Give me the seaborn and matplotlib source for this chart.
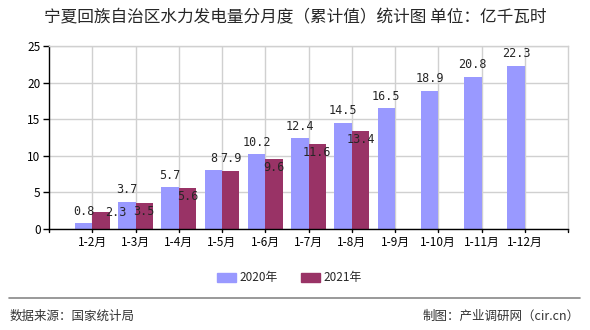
import matplotlib
matplotlib.use("Agg")
import matplotlib.pyplot as plt
import seaborn as sns
import pandas as pd
import numpy as np
from matplotlib.lines import Line2D

# ---- data ----
categories = ["1-2月", "1-3月", "1-4月", "1-5月", "1-6月", "1-7月", "1-8月",
              "1-9月", "1-10月", "1-11月", "1-12月"]
values_2020 = [0.8, 3.7, 5.7, 8, 10.2, 12.4, 14.5, 16.5, 18.9, 20.8, 22.3]
values_2021 = [2.3, 3.5, 5.6, 7.9, 9.6, 11.6, 13.4, None, None, None, None]
series_names = ["2020年", "2021年"]
y_ticks = [0, 5, 10, 15, 20, 25]
title = "宁夏回族自治区水力发电量分月度（累计值）统计图 单位：亿千瓦时"
source_text = "数据来源：国家统计局"
maker_text = "制图：产业调研网（cir.cn）"

# ---- styling ----
colors = ["#9999FF", "#993366"]
# label offsets (points) for 2021 labels that deviate from default placement
label_offsets_2021 = {"1-2月": (11, 0), "1-5月": (0, 9)}

df = pd.DataFrame({
    "cat": categories * 2,
    "val": values_2020 + [np.nan if v is None else v for v in values_2021],
    "series": [series_names[0]] * len(categories) + [series_names[1]] * len(categories),
})

sns.set_theme(style="white")
plt.rcParams["font.family"] = ["Noto Sans CJK SC", "DejaVu Sans"]

fig = plt.figure(figsize=(5.9, 3.3), dpi=100)
ax = fig.add_axes([49 / 590, 1 - 229 / 330, (568 - 49) / 590, (229 - 46) / 330])

sns.barplot(data=df, x="cat", y="val", hue="series", order=categories,
            hue_order=series_names, palette=colors, width=0.8,
            saturation=1, ax=ax, legend=False, errorbar=None,
            linewidth=0, edgecolor="none")

ax.set_xlim(-1, len(categories))
ax.set_ylim(0, 25)
ax.set_yticks(y_ticks)
ax.set_yticklabels([str(t) for t in y_ticks], fontsize=8.5, color="#000000")
ax.set_xticks(range(len(categories)))
ax.set_xticklabels(categories, fontsize=8.5, color="#000000")
ax.set_xlabel("")
ax.set_ylabel("")

# grid
ax.set_axisbelow(True)
ax.grid(True, axis="both", color="#d0d0d0", linewidth=1)
for s in ["top", "right"]:
    ax.spines[s].set_color("#d0d0d0")
    ax.spines[s].set_linewidth(1)
for s in ["left", "bottom"]:
    ax.spines[s].set_color("#000000")
    ax.spines[s].set_linewidth(1)
ax.tick_params(axis="y", length=4, width=1, color="#000000", pad=2, left=True)
ax.tick_params(axis="x", length=0, pad=5)
# tick marks at category centers plus both ends
for xv in list(range(-1, len(categories) + 1)):
    ax.plot([xv, xv], [0, -0.018], transform=ax.get_xaxis_transform(),
            color="#000000", linewidth=1, clip_on=False)

# value labels
c2020, c2021 = ax.containers[0], ax.containers[1]
for p, v in zip(c2020.patches, values_2020):
    ax.annotate(f"{v:g}", (p.get_x() + p.get_width() / 2, p.get_height()),
                xytext=(0, 4), textcoords="offset points", ha="center",
                va="bottom", fontsize=8.5, family="DejaVu Sans Mono")
for p, v, c in zip(c2021.patches, values_2021, categories):
    if v is None:
        continue
    dx, dy = label_offsets_2021.get(c, (0, -6))
    ax.annotate(f"{v:g}", (p.get_x() + p.get_width() / 2, p.get_height()),
                xytext=(dx, dy), textcoords="offset points", ha="center",
                va="center", fontsize=8.5, family="DejaVu Sans Mono")

# title
fig.text(0.5, 1 - 18 / 330, title, ha="center", va="center", fontsize=12)

# legend
handles = [plt.Rectangle((0, 0), 1, 1, color=c) for c in colors]
fig.legend(handles, series_names, loc="center", bbox_to_anchor=(0.49, 1 - 278 / 330),
           ncol=2, frameon=False, fontsize=8.5, handlelength=1.6, handleheight=0.8,
           handletextpad=0.3, columnspacing=2.0)

# footer line and texts
fig.add_artist(Line2D([9 / 590, 580 / 590], [1 - 298 / 330] * 2, color="#888888",
                      linewidth=1.2, transform=fig.transFigure))
fig.text(10 / 590, 1 - 316 / 330, source_text, ha="left", va="center",
         fontsize=9, color="#333333")
fig.text(580 / 590, 1 - 316 / 330, maker_text, ha="right", va="center",
         fontsize=9, color="#333333")

fig.savefig("out.png", dpi=100)
